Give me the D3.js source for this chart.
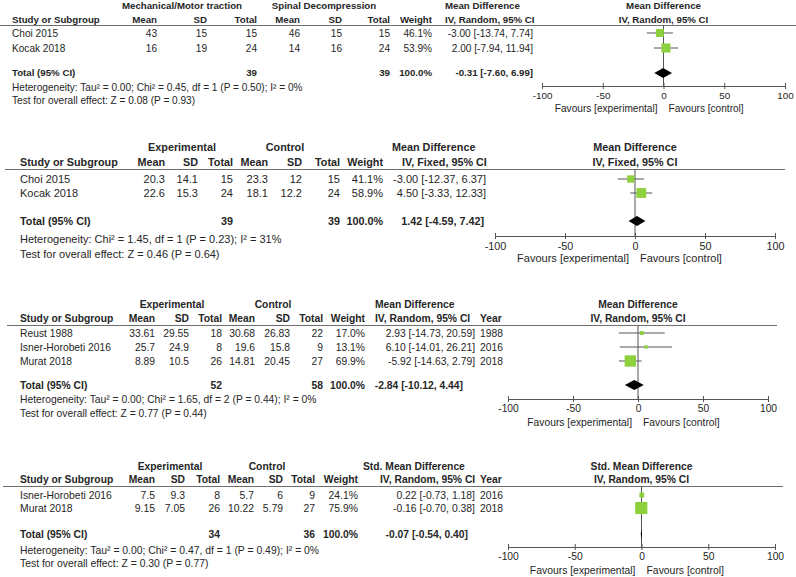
<!DOCTYPE html>
<html><head><meta charset="utf-8">
<script src="https://cdn.jsdelivr.net/npm/d3@7"></script>
<style>
html,body{margin:0;padding:0;background:#fff;}
svg{display:block;font-family:"Liberation Sans",Arial,sans-serif;}
</style></head>
<body><svg id="chart" width="796" height="577"></svg>
<script>
// ---------- Panel 1 ----------
const p1Studies = ["Choi 2015", "Kocak 2018"];
const p1ExpMean = [43, 16];
const p1ExpSD = [15, 19];
const p1ExpN = [15, 24];
const p1CtlMean = [46, 14];
const p1CtlSD = [15, 16];
const p1CtlN = [15, 24];
const p1Weight = [46.1, 53.9];
const p1Est = [-3.00, 2.00];
const p1Lo = [-13.74, -7.94];
const p1Hi = [7.74, 11.94];
const p1Years = null;
const p1Total = [-0.31, -7.60, 6.99];
const p1TotalN = [39, 39];
const p1Groups = ["Mechanical/Motor traction", "Spinal Decompression"];
const p1Effect = ["Mean Difference", "IV, Random, 95% CI"];
const p1Notes = ["Heterogeneity: Tau\u00B2 = 0.00; Chi\u00B2 = 0.45, df = 1 (P = 0.50); I\u00B2 = 0%",
                 "Test for overall effect: Z = 0.08 (P = 0.93)"];

// ---------- Panel 2 ----------
const p2Studies = ["Choi 2015", "Kocak 2018"];
const p2ExpMean = [20.3, 22.6];
const p2ExpSD = [14.1, 15.3];
const p2ExpN = [15, 24];
const p2CtlMean = [23.3, 18.1];
const p2CtlSD = [12, 12.2];
const p2CtlN = [15, 24];
const p2Weight = [41.1, 58.9];
const p2Est = [-3.00, 4.50];
const p2Lo = [-12.37, -3.33];
const p2Hi = [6.37, 12.33];
const p2Years = null;
const p2Total = [1.42, -4.59, 7.42];
const p2TotalN = [39, 39];
const p2Groups = ["Experimental", "Control"];
const p2Effect = ["Mean Difference", "IV, Fixed, 95% CI"];
const p2Notes = ["Heterogeneity: Chi\u00B2 = 1.45, df = 1 (P = 0.23); I\u00B2 = 31%",
                 "Test for overall effect: Z = 0.46 (P = 0.64)"];

// ---------- Panel 3 ----------
const p3Studies = ["Reust 1988", "Isner-Horobeti 2016", "Murat 2018"];
const p3ExpMean = [33.61, 25.7, 8.89];
const p3ExpSD = [29.55, 24.9, 10.5];
const p3ExpN = [18, 8, 26];
const p3CtlMean = [30.68, 19.6, 14.81];
const p3CtlSD = [26.83, 15.8, 20.45];
const p3CtlN = [22, 9, 27];
const p3Weight = [17.0, 13.1, 69.9];
const p3Est = [2.93, 6.10, -5.92];
const p3Lo = [-14.73, -14.01, -14.63];
const p3Hi = [20.59, 26.21, 2.79];
const p3Years = [1988, 2016, 2018];
const p3Total = [-2.84, -10.12, 4.44];
const p3TotalN = [52, 58];
const p3Groups = ["Experimental", "Control"];
const p3Effect = ["Mean Difference", "IV, Random, 95% CI"];
const p3Notes = ["Heterogeneity: Tau\u00B2 = 0.00; Chi\u00B2 = 1.65, df = 2 (P = 0.44); I\u00B2 = 0%",
                 "Test for overall effect: Z = 0.77 (P = 0.44)"];

// ---------- Panel 4 ----------
const p4Studies = ["Isner-Horobeti 2016", "Murat 2018"];
const p4ExpMean = [7.5, 9.15];
const p4ExpSD = [9.3, 7.05];
const p4ExpN = [8, 26];
const p4CtlMean = [5.7, 10.22];
const p4CtlSD = [6, 5.79];
const p4CtlN = [9, 27];
const p4Weight = [24.1, 75.9];
const p4Est = [0.22, -0.16];
const p4Lo = [-0.73, -0.70];
const p4Hi = [1.18, 0.38];
const p4Years = [2016, 2018];
const p4Total = [-0.07, -0.54, 0.40];
const p4TotalN = [34, 36];
const p4Groups = ["Experimental", "Control"];
const p4Effect = ["Std. Mean Difference", "IV, Random, 95% CI"];
const p4Notes = ["Heterogeneity: Tau\u00B2 = 0.00; Chi\u00B2 = 0.47, df = 1 (P = 0.49); I\u00B2 = 0%",
                 "Test for overall effect: Z = 0.30 (P = 0.77)"];

// shared
const axisTicks = [-100, -50, 0, 50, 100];
const axisDomain = [-100, 100];
const favours = ["Favours [experimental]", "Favours [control]"];
const colHeads = ["Mean", "SD", "Total", "Mean", "SD", "Total", "Weight"];

// ---------- layout ----------
const layouts = [
  {fs: 9.7, fsR: 10.1, hdr1: 6, hdr2: 20, line: 25.5, lineX: [0, 796], rows: [33, 48], total: 73, notes: [87, 100],
   study: 12, cols: [157, 207, 257, 300, 342, 390, 432], grp: [182, 324], eff1X: 445, eff2X: 445,
   ciEnd: 533, totCiEnd: 533, yearX: null, plot: [542, 785], axisY: 86, favY: 108, tickFs: 9.9},
  {fs: 10.8, fsR: 11, hdr1: 147, hdr2: 162, line: 169.5, lineX: [5, 785], rows: [179, 193], total: 221, notes: [239, 254],
   study: 20, cols: [165, 198, 233, 268, 302, 340, 383], grp: [182, 285], eff1X: 392, eff2X: 402,
   ciEnd: 486, totCiEnd: 484, yearX: null, plot: [495, 775], axisY: 236, favY: 258, tickFs: 10.8},
  {fs: 10.3, fsR: 10.3, hdr1: 304, hdr2: 318, line: 325.5, lineX: [7, 777], rows: [333, 347, 361], total: 385, notes: [399, 413],
   study: 20, cols: [155, 189, 222, 255, 290, 323, 365], grp: [172, 273], eff1X: 375, eff2X: 375,
   ciEnd: 475, totCiEnd: 463, yearX: 480, plot: [508, 768], axisY: 399, favY: 422, tickFs: 10.3},
  {fs: 10.3, fsR: 10.4, hdr1: 466, hdr2: 479, line: 486.5, lineX: [3, 783], rows: [495, 508], total: 534, notes: [550, 563],
   study: 20, cols: [155, 185, 220, 254, 283, 315, 358], grp: [170, 267], eff1X: 363, eff2X: 380,
   ciEnd: 475, totCiEnd: 468, yearX: 480, plot: [508, 775], axisY: 547, favY: 570, tickFs: 10.3}
];

const panels = [
  {studies: p1Studies, em: p1ExpMean, es: p1ExpSD, en: p1ExpN, cm: p1CtlMean, cs: p1CtlSD, cn: p1CtlN, w: p1Weight,
   est: p1Est, lo: p1Lo, hi: p1Hi, years: p1Years, total: p1Total, totalN: p1TotalN, groups: p1Groups, effect: p1Effect, notes: p1Notes},
  {studies: p2Studies, em: p2ExpMean, es: p2ExpSD, en: p2ExpN, cm: p2CtlMean, cs: p2CtlSD, cn: p2CtlN, w: p2Weight,
   est: p2Est, lo: p2Lo, hi: p2Hi, years: p2Years, total: p2Total, totalN: p2TotalN, groups: p2Groups, effect: p2Effect, notes: p2Notes},
  {studies: p3Studies, em: p3ExpMean, es: p3ExpSD, en: p3ExpN, cm: p3CtlMean, cs: p3CtlSD, cn: p3CtlN, w: p3Weight,
   est: p3Est, lo: p3Lo, hi: p3Hi, years: p3Years, total: p3Total, totalN: p3TotalN, groups: p3Groups, effect: p3Effect, notes: p3Notes},
  {studies: p4Studies, em: p4ExpMean, es: p4ExpSD, en: p4ExpN, cm: p4CtlMean, cs: p4CtlSD, cn: p4CtlN, w: p4Weight,
   est: p4Est, lo: p4Lo, hi: p4Hi, years: p4Years, total: p4Total, totalN: p4TotalN, groups: p4Groups, effect: p4Effect, notes: p4Notes}
];

const svg = d3.select("#chart");
const TXT = "#262626";
const GREEN = "#8cd03c";
const sizeScale = d3.scaleLinear().domain([0, 100]).range([1.5, 15.5]);
const ci = (e, l, h) => `${e.toFixed(2)} [${l.toFixed(2)}, ${h.toFixed(2)}]`;

panels.forEach((p, i) => {
  const L = layouts[i];
  const g = svg.append("g");
  const txt = (x, y, s, anchor, bold) => {
    const fs = bold ? L.fs : L.fsR;
    return g.append("text")
      .attr("x", x).attr("y", y + fs * 0.36)
      .attr("text-anchor", anchor || "start")
      .attr("font-size", fs)
      .attr("font-weight", bold ? "bold" : "normal")
      .attr("fill", TXT).text(s);
  };

  // headers
  txt(L.grp[0], L.hdr1, p.groups[0], "middle", true);
  txt(L.grp[1], L.hdr1, p.groups[1], "middle", true);
  txt(L.eff1X, L.hdr1, p.effect[0], "start", true);
  txt(L.study, L.hdr2, "Study or Subgroup", "start", true);
  colHeads.forEach((h, k) => txt(L.cols[k], L.hdr2, h, "end", true));
  txt(L.eff2X, L.hdr2, p.effect[1], "start", true);
  if (p.years) txt(L.yearX, L.hdr2, "Year", "start", true);

  const x = d3.scaleLinear().domain(axisDomain).range(L.plot);
  const x0 = x(0);
  txt(x0, L.hdr1, p.effect[0], "middle", true);
  txt(x0, L.hdr2, p.effect[1], "middle", true);

  g.append("line").attr("x1", L.lineX[0]).attr("x2", L.lineX[1])
    .attr("y1", L.line).attr("y2", L.line).attr("stroke", "#6e6e6e").attr("stroke-width", 1);

  // study rows
  p.studies.forEach((s, k) => {
    const y = L.rows[k];
    txt(L.study, y, s, "start", false);
    const vals = [p.em[k], p.es[k], p.en[k], p.cm[k], p.cs[k], p.cn[k]].map(String);
    vals.push(p.w[k].toFixed(1) + "%");
    vals.forEach((v, c) => txt(L.cols[c], y, v, "end", false));
    txt(L.ciEnd, y, ci(p.est[k], p.lo[k], p.hi[k]), "end", false);
    if (p.years) txt(L.yearX, y, String(p.years[k]), "start", false);
  });

  // total row
  txt(L.study, L.total, "Total (95% CI)", "start", true);
  txt(L.cols[2], L.total, String(p.totalN[0]), "end", true);
  txt(L.cols[5], L.total, String(p.totalN[1]), "end", true);
  txt(L.cols[6], L.total, "100.0%", "end", true);
  txt(L.totCiEnd, L.total, ci(p.total[0], p.total[1], p.total[2]), "end", true);

  // notes
  p.notes.forEach((n, k) => txt(L.study, L.notes[k], n, "start", false));

  // zero line
  g.append("line").attr("x1", x0).attr("x2", x0).attr("y1", L.line).attr("y2", L.axisY)
    .attr("stroke", "#555").attr("stroke-width", 1);

  // CI lines and squares
  p.studies.forEach((s, k) => {
    const y = L.rows[k];
    g.append("line").attr("x1", x(p.lo[k])).attr("x2", x(p.hi[k]))
      .attr("y1", y).attr("y2", y).attr("stroke", "#555").attr("stroke-width", 1);
    const sz = sizeScale(p.w[k]);
    g.append("rect").attr("x", x(p.est[k]) - sz / 2).attr("y", y - sz / 2)
      .attr("width", sz).attr("height", sz).attr("fill", GREEN);
  });

  // diamond
  const ty = L.total, dh = 5;
  g.append("path")
    .attr("d", `M${x(p.total[1])},${ty} L${x(p.total[0])},${ty - dh} L${x(p.total[2])},${ty} L${x(p.total[0])},${ty + dh} Z`)
    .attr("fill", "#000");

  // axis
  const axis = d3.axisBottom(x).tickValues(axisTicks).tickFormat(d => String(d))
    .tickSizeInner(3).tickSizeOuter(0).tickPadding(3);
  const ag = g.append("g").attr("transform", `translate(0,${L.axisY})`).call(axis);
  ag.select(".domain").attr("stroke", "#555");
  ag.selectAll(".tick line").attr("y1", -3).attr("y2", 3).attr("stroke", "#555");
  ag.selectAll(".tick text").attr("font-size", L.tickFs).attr("fill", TXT)
    .attr("font-family", "'Liberation Sans', Arial, sans-serif");

  txt(x0 - 6, L.favY, favours[0], "end", false);
  txt(x0 + 5, L.favY, favours[1], "start", false);
});
</script>
</body></html>
